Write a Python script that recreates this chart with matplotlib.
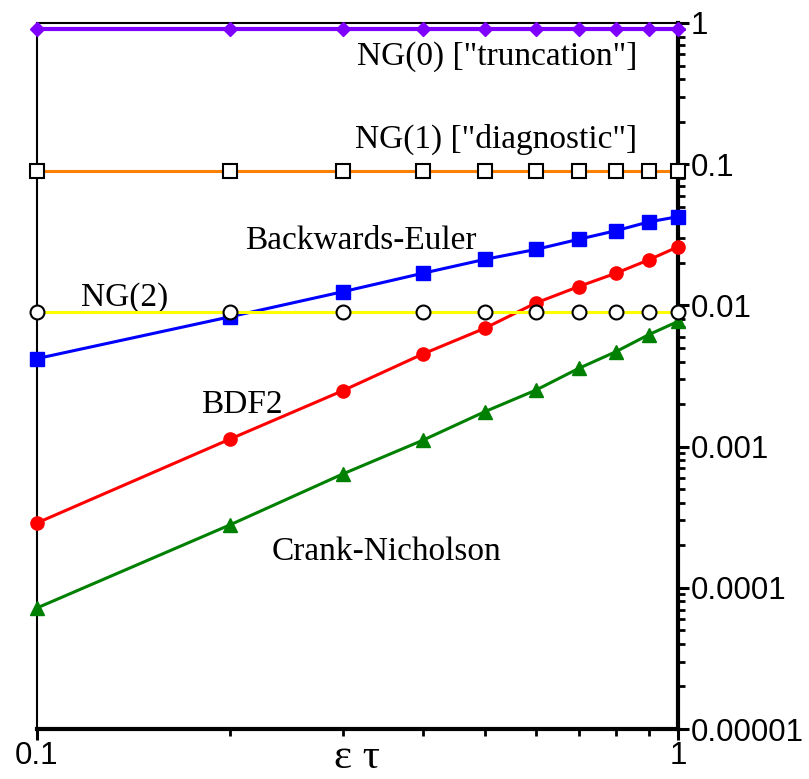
import matplotlib
matplotlib.use("Agg")
import matplotlib.pyplot as plt
from matplotlib.ticker import FixedLocator, FixedFormatter, NullFormatter

# ---- data ----
eps_tau = [0.1, 0.2, 0.3, 0.4, 0.5, 0.6, 0.7, 0.8, 0.9, 1.0]
ng0 = [0.9] * 10
ng1 = [0.09] * 10
ng2 = [0.009] * 10
backwards_euler = [0.0042, 0.0083, 0.0125, 0.0169, 0.0212, 0.0249, 0.0294, 0.0338, 0.039, 0.0425]
bdf2 = [0.000288, 0.00113, 0.00249, 0.00453, 0.0069, 0.0104, 0.0136, 0.0169, 0.021, 0.026]
crank_nicholson = [0.000072, 0.000279, 0.00064, 0.00111, 0.00177, 0.00251, 0.00358, 0.0047, 0.0062, 0.0077]

x_ticks = [0.1, 1.0]
x_tick_labels = ["0.1", "1"]
y_ticks = [1e-5, 1e-4, 1e-3, 1e-2, 1e-1, 1.0]
y_tick_labels = ["0.00001", "0.0001", "0.001", "0.01", "0.1", "1"]
x_label = "ε τ"

labels = ['NG(0) ["truncation"]', 'NG(1) ["diagnostic"]', "Backwards-Euler",
          "NG(2)", "BDF2", "Crank-Nicholson"]

# ---- figure ----
W, H = 809, 779
fig = plt.figure(figsize=(W / 100, H / 100), dpi=100)
ax = fig.add_axes([37 / W, 1 - 729 / H, (678 - 37) / W, (729 - 23) / H])
ax.set_xscale("log")
ax.set_yscale("log")
ax.set_xlim(0.1, 1.0)
ax.set_ylim(1e-5, 1.0)

lw = 2.2
ax.plot(eps_tau, ng0, color="#7F00FF", lw=3, marker="D", ms=7.5, mec="#7F00FF",
        clip_on=False, zorder=5)
ax.plot(eps_tau, ng1, color="#FF8000", lw=lw, marker="s", ms=10, mfc="white",
        mec="black", mew=1.5, clip_on=False, zorder=5)
ax.plot(eps_tau, backwards_euler, color="#0000FF", lw=lw, marker="s", ms=9.5,
        clip_on=False, zorder=4)
ax.plot(eps_tau, bdf2, color="#FF0000", lw=lw, marker="o", ms=9.5,
        clip_on=False, zorder=4)
ax.plot(eps_tau, crank_nicholson, color="#008000", lw=lw, marker="^", ms=10,
        clip_on=False, zorder=4)
ax.plot(eps_tau, ng2, color="#FFFF00", lw=lw, marker="o", ms=10, mfc="white",
        mec="black", mew=1.5, clip_on=False, zorder=6)

# ---- axes styling ----
ax.yaxis.tick_right()
for s in ["left", "top"]:
    ax.spines[s].set_linewidth(1.5)
for s in ["right", "bottom"]:
    ax.spines[s].set_linewidth(3)

ax.xaxis.set_major_locator(FixedLocator(x_ticks))
ax.xaxis.set_major_formatter(FixedFormatter(x_tick_labels))
ax.xaxis.set_minor_locator(FixedLocator([0.2, 0.3, 0.4, 0.5, 0.6, 0.7, 0.8, 0.9]))
ax.xaxis.set_minor_formatter(NullFormatter())
ax.yaxis.set_major_locator(FixedLocator(y_ticks))
ax.yaxis.set_major_formatter(FixedFormatter(y_tick_labels))
ax.yaxis.set_minor_formatter(NullFormatter())

tick_font = "Liberation Sans"
ax.tick_params(which="major", direction="out", length=8, width=2.2, pad=1,
               labelsize=22.5)
ax.tick_params(which="minor", direction="out", length=5, width=2.0)
ax.tick_params(axis="x", which="both", top=False)
ax.tick_params(axis="y", which="both", left=False, right=True)
for lab in ax.get_xticklabels() + ax.get_yticklabels():
    lab.set_fontfamily(tick_font)

serif = ["Liberation Serif", "DejaVu Serif"]
ax.set_xlabel(x_label, fontsize=31, family=serif)
ax.xaxis.set_label_coords(0.5, -0.0552)
ax.xaxis.label.set_va("baseline")

fs = 24
ax.text(0.863, 0.504, labels[0], ha="right", va="baseline", fontsize=fs, family=serif)
ax.text(0.863, 0.130, labels[1], ha="right", va="baseline", fontsize=fs, family=serif)
ax.text(0.320, 0.02507, labels[2], ha="center", va="baseline", fontsize=fs, family=serif)
ax.text(0.1372, 0.0099, labels[3], ha="center", va="baseline", fontsize=fs, family=serif)
ax.text(0.2089, 0.00173, labels[4], ha="center", va="baseline", fontsize=fs, family=serif)
ax.text(0.3515, 0.0001574, labels[5], ha="center", va="baseline", fontsize=fs, family=serif)

fig.savefig("out.png", dpi=100)
